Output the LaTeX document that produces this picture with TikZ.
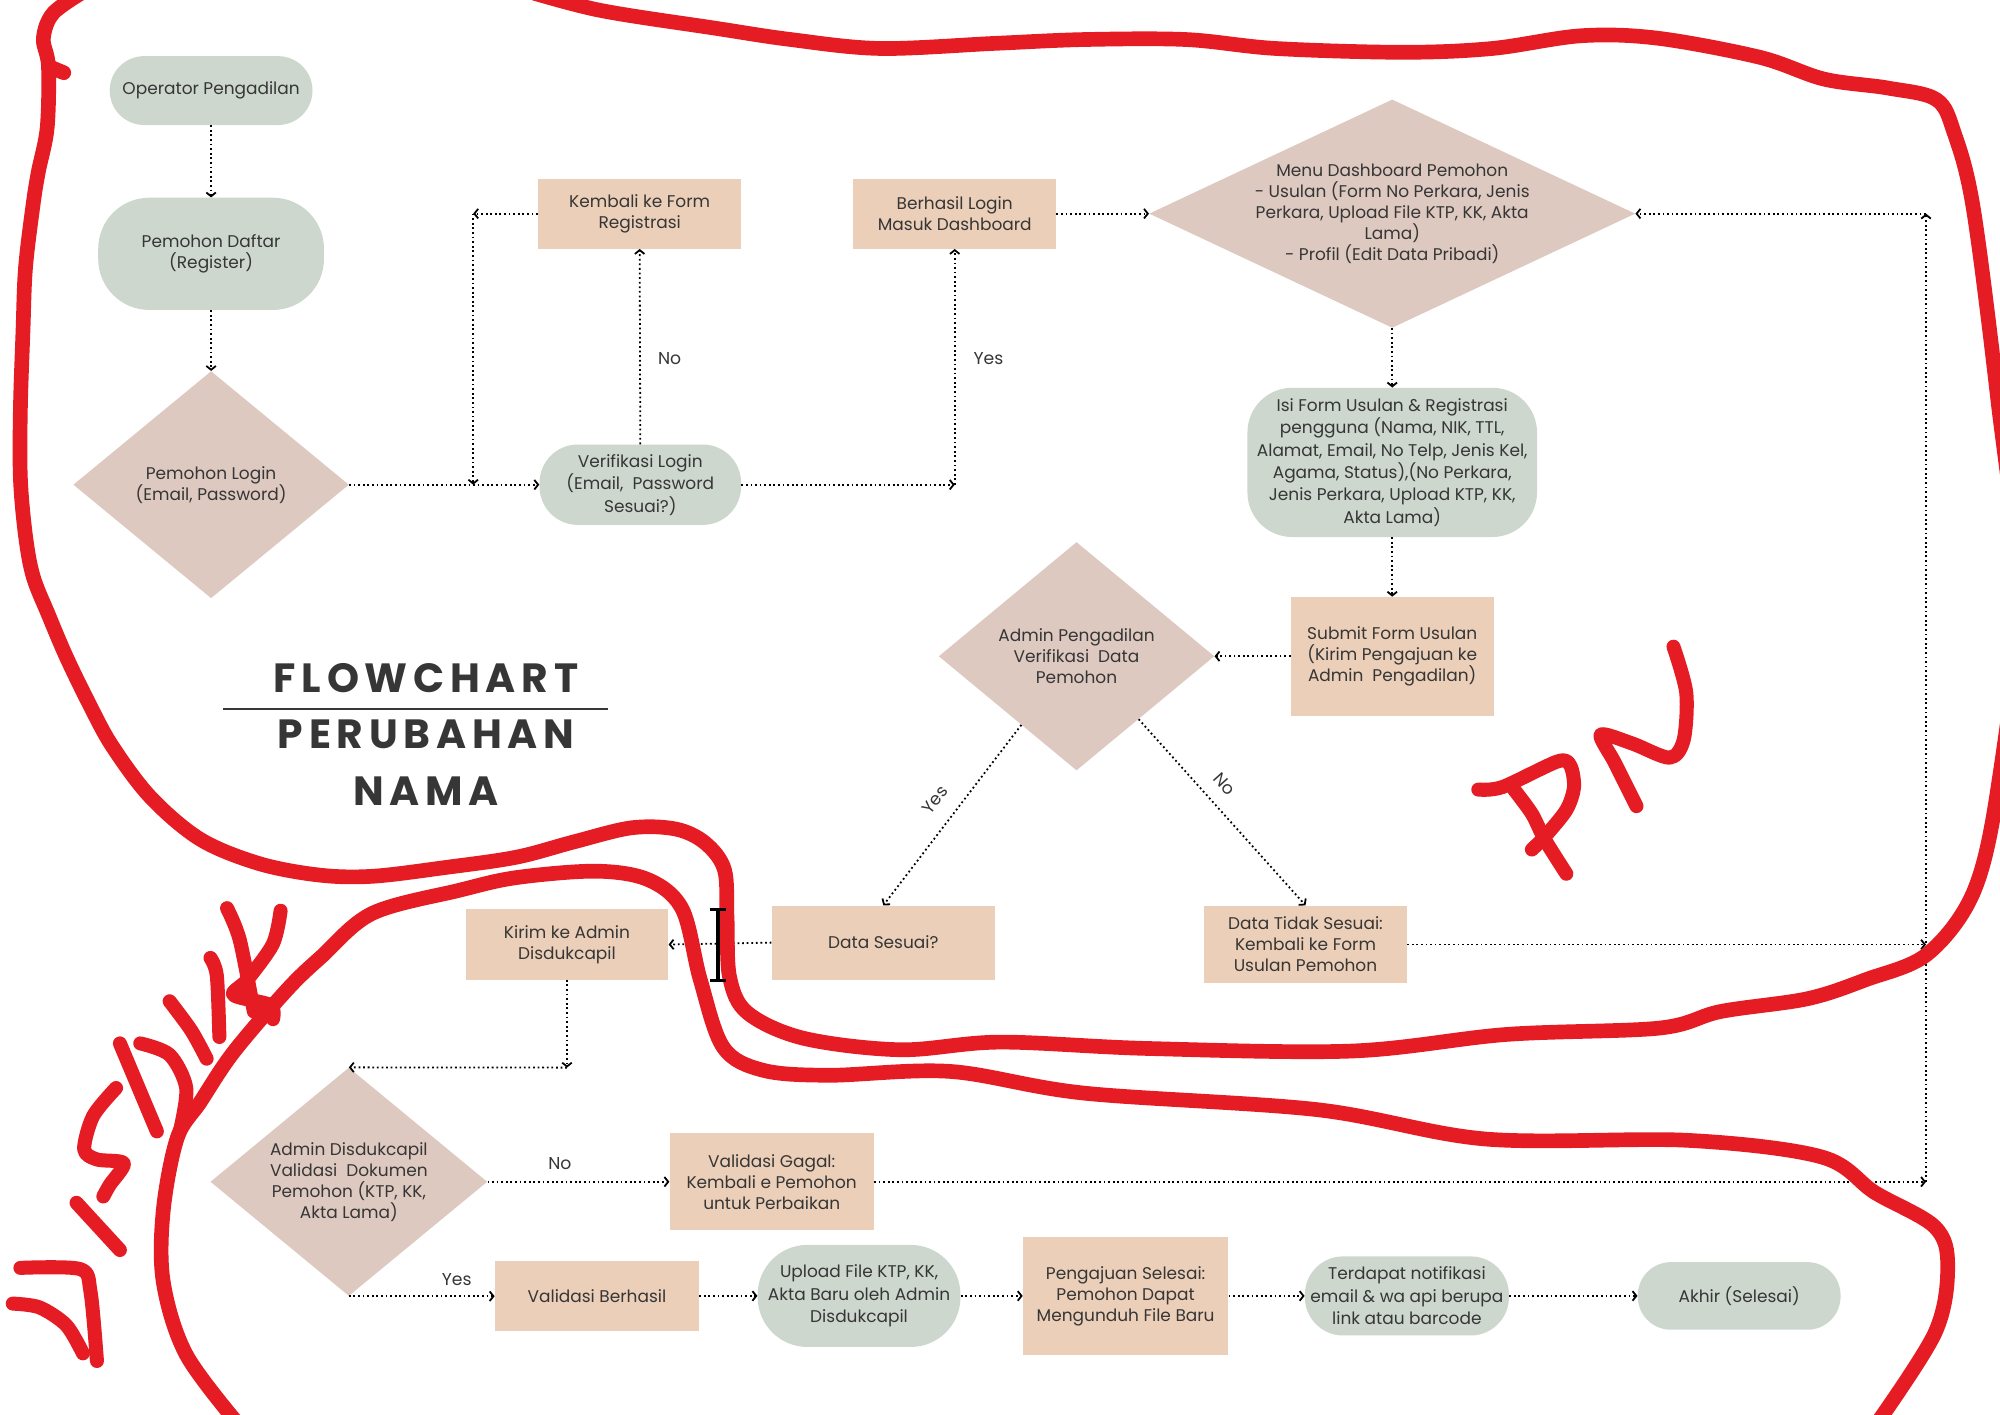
\documentclass[tikz,border=0pt]{standalone}
\usepackage{fontspec}
\setmainfont{Poppins}
\newfontfamily\titlefont[LetterSpace=14]{Poppins}
\usetikzlibrary{arrows.meta,shapes.geometric,calc}

\definecolor{sage}{HTML}{CDD7CE}
\definecolor{rose}{HTML}{DEC9C0}
\definecolor{peach}{HTML}{ECCFB8}
\definecolor{ink}{HTML}{363636}
\definecolor{marker}{HTML}{E61C24}

\newcommand{\nf}{\fontsize{13.3}{16.5}\selectfont}
\newcommand{\nfl}{\fontsize{13.3}{17.6}\selectfont}

\tikzset{
  base/.style={inner sep=0pt, align=center, text=ink, font=\nf},
  pill/.style={base, rectangle, fill=sage},
  box/.style={base, rectangle, fill=peach},
  dia/.style={shape=diamond, fill=rose, inner sep=0pt},
  flow/.style={draw=black, line width=1.4pt, dash pattern=on 1.4pt off 2.2pt,
    -{Straight Barb[length=3pt,width=7.5pt,line width=1.4pt]}},
  flowlabel/.style={text=ink, font=\fontsize{13.5}{14}\selectfont, inner sep=0pt},
  scribble/.style={draw=marker, line width=11.5pt, line cap=round, line join=round},
  letterstroke/.style={draw=marker, line width=11pt, line cap=round, line join=round}
}

\begin{document}
\begin{tikzpicture}[x=1pt, y=-1pt]
\useasboundingbox (0,0) rectangle (1568,1109);
\fill[white] (0,0) rectangle (1568,1109);

% ---------- nodes, top part ----------
\node[pill, rounded corners=27pt, minimum width=159pt, minimum height=54pt] (op) at (165.5,71) {Operator Pengadilan};
\node[pill, rounded corners=40pt, minimum width=177pt, minimum height=88pt] (daftar) at (165.5,199) {Pemohon Daftar\\(Register)};
\node[dia, minimum width=216pt, minimum height=178pt] (login) at (165.5,380) {};
\node[base] at (login.center) {Pemohon Login\\(Email, Password)};

\node[box, minimum width=159pt, minimum height=55pt] (kem) at (501.5,167.5) {Kembali ke Form\\Registrasi};
\node[pill, rounded corners=30pt, minimum width=158pt, minimum height=63pt, font=\nfl] (verif) at (502,380) {Verifikasi Login\\(Email,\ \ Password\\Sesuai?)};
\node[box, minimum width=159pt, minimum height=55pt] (berhasil) at (748.5,167.5) {Berhasil Login\\Masuk Dashboard};

\node[dia, minimum width=381pt, minimum height=179pt] (menu) at (1091.5,167.5) {};
\node[base] at (menu.center) {Menu Dashboard Pemohon\\- Usulan (Form No Perkara, Jenis\\Perkara, Upload File KTP, KK, Akta\\Lama)\\- Profil (Edit Data Pribadi)};

\node[pill, rounded corners=35pt, minimum width=227pt, minimum height=117pt, font=\nfl] (isi) at (1091.5,362.5) {Isi Form Usulan \& Registrasi\\pengguna (Nama, NIK, TTL,\\Alamat, Email, No Telp, Jenis Kel,\\Agama, Status),(No Perkara,\\Jenis Perkara, Upload KTP, KK,\\Akta Lama)};
\node[box, minimum width=159pt, minimum height=93pt] (submit) at (1091.5,514.5) {Submit Form Usulan\\(Kirim Pengajuan ke\\Admin\ \ Pengadilan)};

\node[dia, minimum width=216pt, minimum height=179pt] (ap) at (844,514.5) {};
\node[base] at (ap.center) {Admin Pengadilan\\Verifikasi\ \ Data\\Pemohon};

\node[box, minimum width=175pt, minimum height=58pt] (sesuai) at (692.5,739) {Data Sesuai?};
\node[box, minimum width=159pt, minimum height=61pt] (tidak) at (1023.5,740.5) {Data Tidak Sesuai:\\Kembali ke Form\\Usulan Pemohon};
\node[box, minimum width=159pt, minimum height=55pt] (kirim) at (444.5,740.5) {Kirim ke Admin\\Disdukcapil};

% ---------- nodes, bottom part ----------
\node[dia, minimum width=217pt, minimum height=179pt] (ad) at (273.5,926.5) {};
\node[base] at (ad.center) {Admin Disdukcapil\\Validasi\ \ Dokumen\\Pemohon (KTP, KK,\\Akta Lama)};
\node[box, minimum width=160pt, minimum height=76pt] (gagal) at (605,926.5) {Validasi Gagal:\\Kembali e Pemohon\\untuk Perbaikan};
\node[box, minimum width=160pt, minimum height=55pt] (valb) at (468,1016) {Validasi Berhasil};
\node[pill, rounded corners=39pt, minimum width=159pt, minimum height=80pt, font=\nfl] (upload) at (673.5,1016) {Upload File KTP, KK,\\Akta Baru oleh Admin\\Disdukcapil};
\node[box, minimum width=161pt, minimum height=92pt] (selesai) at (882.5,1016) {Pengajuan Selesai:\\Pemohon Dapat\\Mengunduh File Baru};
\node[pill, rounded corners=30pt, minimum width=160pt, minimum height=62pt, font=\nfl] (notif) at (1103,1016) {Terdapat notifikasi\\email \& wa api berupa\\link atau barcode};
\node[pill, rounded corners=26pt, minimum width=159pt, minimum height=53pt] (akhir) at (1363.5,1016) {Akhir (Selesai)};

% ---------- title ----------
\node[inner sep=0pt, text=ink, font=\titlefont\bfseries\fontsize{32}{36}\selectfont] (t1) at (334,532) {FLOWCHART};
\node[inner sep=0pt, text=ink, font=\titlefont\bfseries\fontsize{32}{36}\selectfont] (t2) at (334,576) {PERUBAHAN};
\node[inner sep=0pt, text=ink, font=\titlefont\bfseries\fontsize{32}{36}\selectfont] (t3) at (334,620) {NAMA};
\coordinate (rl) at (175,556);
\coordinate (rr) at (477,556);
\draw[ink, line width=1.3pt] (rl) -- (rr);

% ---------- connectors ----------
\draw[flow] (op.south) -- (daftar.north);
\draw[flow] (daftar.south) -- (login.north);
\draw[flow] (login.east) -- (verif.west);

\coordinate (k1) at (371,167.5);
\coordinate (k2) at (371,380);
\draw[flow] (kem.west) -- (k1);
\draw[flow] (k1) -- (k2);

\draw[flow] (verif.north) -- (kem.south);
\node[flowlabel] (lno1) at (525,281) {No};

\coordinate (b1) at (748.5,380);
\draw[flow] (verif.east) -- (b1);
\draw[flow] (b1) -- (berhasil.south);
\node[flowlabel] (lyes1) at (775,281) {Yes};

\draw[flow] (berhasil.east) -- (menu.west);
\draw[flow] (menu.south) -- (isi.north);
\draw[flow] (isi.south) -- (submit.north);
\draw[flow] (submit.west) -- (ap.east);

\draw[flow] ($(ap.south)!0.4!(ap.west)$) -- (sesuai.north);
\node[flowlabel, rotate=52] (lyes2) at (733,627) {Yes};
\draw[flow] ($(ap.south)!0.45!(ap.east)$) -- (tidak.north);
\node[flowlabel, rotate=-48] (lno2) at (960,615) {No};

\coordinate (r1) at (1510,740.5);
\coordinate (r2) at (1510,926.5);
\coordinate (r3) at (1510,167.5);
\draw[flow] (tidak.east) -- (r1);
\draw[flow] (gagal.east) -- (r2);
\draw[flow] (r2) -- (r3);
\draw[flow] (r3) -- (menu.east);

\draw[flow] (sesuai.west) -- (kirim.east);
\coordinate (d1) at (444.5,837);
\draw[flow] (kirim.south) -- (d1);
\draw[flow] (d1) -- (ad.north);

\draw[flow] (ad.east) -- (gagal.west);
\node[flowlabel] (lno3) at (439,912) {No};
\draw[flow] (ad.south) -- (ad.south -| valb.west);
\node[flowlabel] (lyes3) at (358,1003) {Yes};

\draw[flow] (valb.east) -- (upload.west);
\draw[flow] (upload.east) -- (selesai.west);
\draw[flow] (selesai.east) -- (notif.west);
\draw[flow] (notif.east) -- (akhir.west);

% ---------- red marker annotations ----------
\begin{scope}
\clip (0,0) rectangle (1568,1109);
% upper loop
\draw[scribble] plot[smooth, tension=0.55] coordinates {
 (68,-8) (42,10) (34,30) (38,52) (37,100) (30,135) (26,160) (20,210) (18,260)
 (16,320) (16,375) (20,420) (26,452) (38,482) (52,515) (70,552) (88,585)
 (118,625) (157,658) (203,677) (250,686) (292,687) (350,680) (405,672)
 (450,660) (495,649) (530,650) (553,661) (568,682) (570,720) (572,766)
 (586,794) (630,814) (706,823) (784,817) (900,822) (1060,824) (1181,811)
 (1301,806) (1349,793) (1417,783) (1463,768) (1511,748) (1547,700)
 (1566,620) (1582,470) (1566,311) (1547,163) (1532,104) (1518,78)
 (1480,69) (1430,62) (1380,45) (1300,30) (1240,28) (1170,38) (1100,41)
 (1000,38) (930,31) (850,31) (780,34) (690,38) (620,31) (560,22) (470,8) (410,-8)};
\draw[scribble] (38,52) -- (50,57);
% lower loop
\draw[scribble] plot[smooth, tension=0.55] coordinates {
 (188,1118) (146,1062) (128,1005) (128,949) (139,892) (157,864) (183,825)
 (225,776) (252,750) (292,716) (360,698) (405,688) (468,683) (509,690)
 (535,713) (549,768) (567,821) (598,839) (650,843) (745,840) (850,857)
 (1033,870) (1165,893) (1323,894) (1428,907) (1470,935) (1517,962)
 (1527,993) (1517,1045) (1470,1118)};
% letters D I S D U K
\draw[letterstroke] plot[smooth, tension=0.5] coordinates {(16,994) (63,995) (71,1013) (76,1067)};
\draw[letterstroke] plot[smooth, tension=0.5] coordinates {(10,1022) (31,1025) (52,1039) (65,1061)};
\draw[letterstroke] (60,943) -- (94,980);
\draw[letterstroke] plot[smooth, tension=0.5] coordinates {(91,853) (73,875) (66,901) (76,909) (97,912) (86,929) (81,938)};
\draw[letterstroke] (94,818) -- (123,887);
\draw[letterstroke] plot[smooth, tension=0.5] coordinates {(110,818) (133,827) (146,853) (141,887)};
\draw[letterstroke] plot[smooth, tension=0.5] coordinates {(133,785) (150,808) (162,830)};
\draw[letterstroke] plot[smooth, tension=0.5] coordinates {(165,751) (170,765) (172,813)};
\draw[letterstroke] plot[smooth, tension=0.5] coordinates {(178,712) (188,737) (199,793)};
\draw[letterstroke] plot[smooth, tension=0.5] coordinates {(220,714) (214,740) (194,768) (183,780) (212,788) (214,799)};
% letters P N
\draw[letterstroke] plot[smooth, tension=0.5] coordinates {(1159,619) (1178,617) (1221,597) (1231,600) (1234,617) (1228,635) (1211,656) (1201,666)};
\draw[letterstroke] plot[smooth, tension=0.5] coordinates {(1187,619) (1201,638) (1211,658) (1228,685)};
\draw[letterstroke] plot[smooth, tension=0.5] coordinates {(1283,632) (1266,598) (1255,576) (1280,583) (1309,594) (1320,580) (1322,543) (1312,507)};
\end{scope}

% text cursor mark
\draw[black, line width=3pt] (563,713) -- (563,769);
\draw[black, line width=2.5pt] (557,713) -- (569,713);
\draw[black, line width=2.5pt] (557,769) -- (569,769);
\end{tikzpicture}
\end{document}
